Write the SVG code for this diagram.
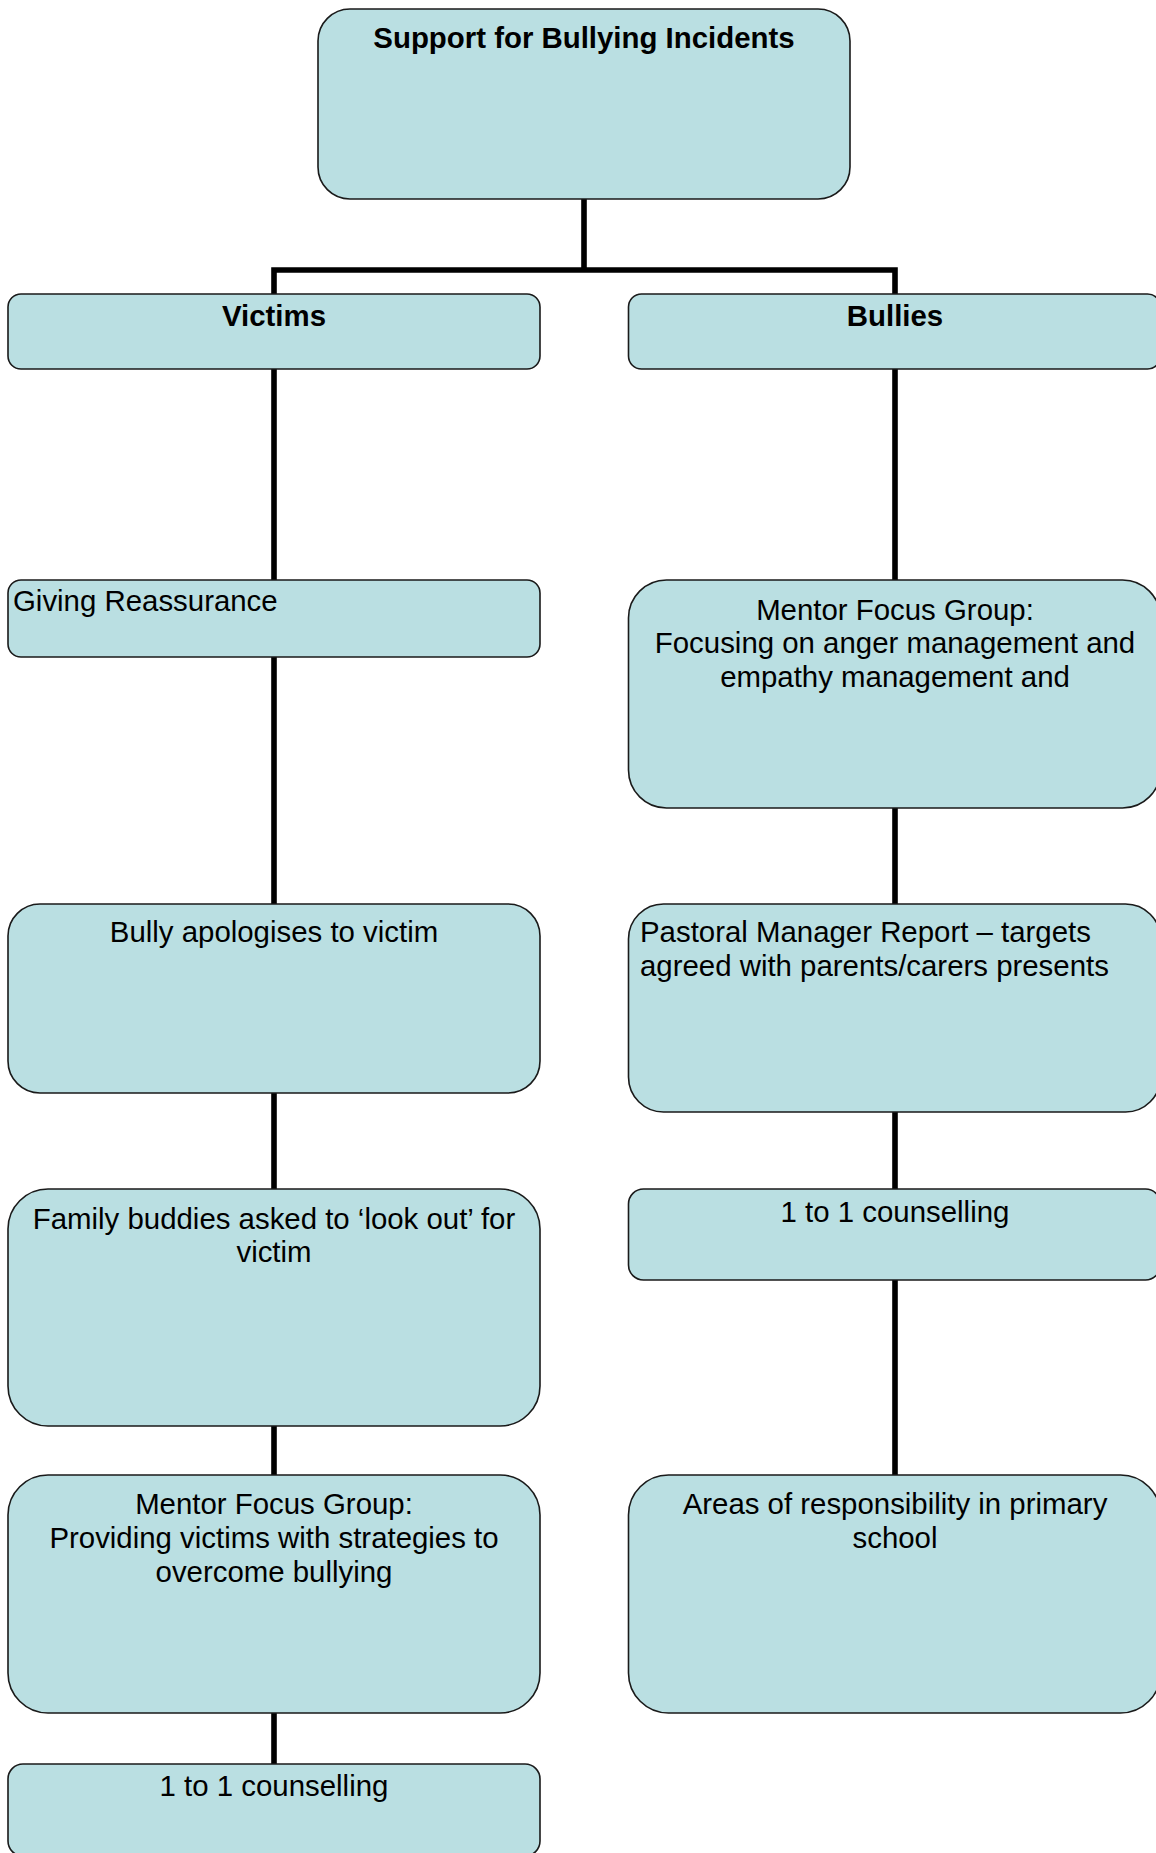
<svg xmlns="http://www.w3.org/2000/svg" width="1156" height="1853" viewBox="0 0 1156 1853">
<style>
.box{fill:#BADFE2;stroke:#1a1a1a;stroke-width:1.6}
.t{font-family:"Liberation Sans",Arial,sans-serif;font-size:29.4px;fill:#000}
.c{text-anchor:middle}
.b{font-weight:bold}
.conn{fill:none;stroke:#000;stroke-width:5.6;stroke-linejoin:miter;stroke-linecap:butt}
</style>
<rect width="1156" height="1853" fill="#fff"/>
<g id="connectors">
<path class="conn" d="M584,199 V270 M274,294 V270 H895 V294"/>
<path class="conn" d="M274,369 V580 M274,657 V904 M274,1093 V1189 M274,1426 V1475 M274,1713 V1764"/>
<path class="conn" d="M895,369 V580 M895,808 V904 M895,1112 V1189 M895,1280 V1475"/>
</g>
<g id="n-top">
<rect class="box" x="318" y="9" width="532" height="190" rx="32" ry="32"/>
<text class="t b c" x="584" y="48">Support for Bullying Incidents</text>
</g>
<g id="n-victims">
<rect class="box" x="8" y="294" width="532" height="75" rx="13" ry="13"/>
<text class="t b c" x="274" y="326">Victims</text>
</g>
<g id="n-bullies">
<rect class="box" x="628.5" y="294" width="532" height="75" rx="13" ry="13"/>
<text class="t b c" x="895" y="326">Bullies</text>
</g>
<g id="n-reassurance">
<rect class="box" x="8" y="580" width="532" height="77" rx="13" ry="13"/>
<text class="t" x="13" y="611">Giving Reassurance</text>
</g>
<g id="n-apologises">
<rect class="box" x="8" y="904" width="532" height="189" rx="32" ry="32"/>
<text class="t c" x="274" y="942">Bully apologises to victim</text>
</g>
<g id="n-family">
<rect class="box" x="8" y="1189" width="532" height="237" rx="40" ry="40"/>
<text class="t c" x="274" y="1229">Family buddies asked to ‘look out’ for</text>
<text class="t c" x="274" y="1262">victim</text>
</g>
<g id="n-mentor-victims">
<rect class="box" x="8" y="1475" width="532" height="238" rx="40" ry="40"/>
<text class="t c" x="274" y="1514">Mentor Focus Group:</text>
<text class="t c" x="274" y="1548">Providing victims with strategies to</text>
<text class="t c" x="274" y="1582">overcome bullying</text>
</g>
<g id="n-counselling-victims">
<rect class="box" x="8" y="1764" width="532" height="92" rx="15" ry="15"/>
<text class="t c" x="274" y="1796">1 to 1 counselling</text>
</g>
<g id="n-mentor-bullies">
<rect class="box" x="628.5" y="580" width="532" height="228" rx="38" ry="38"/>
<text class="t c" x="895" y="620">Mentor Focus Group:</text>
<text class="t c" x="895" y="653">Focusing on anger management and</text>
<text class="t c" x="895" y="687">empathy management and</text>
</g>
<g id="n-pastoral">
<rect class="box" x="628.5" y="904" width="532" height="208" rx="35" ry="35"/>
<text class="t" x="640" y="942">Pastoral Manager Report – targets</text>
<text class="t" x="640" y="976">agreed with parents/carers presents</text>
</g>
<g id="n-counselling-bullies">
<rect class="box" x="628.5" y="1189" width="532" height="91" rx="15" ry="15"/>
<text class="t c" x="895" y="1222">1 to 1 counselling</text>
</g>
<g id="n-areas">
<rect class="box" x="628.5" y="1475" width="532" height="238" rx="40" ry="40"/>
<text class="t c" x="895" y="1514">Areas of responsibility in primary</text>
<text class="t c" x="895" y="1548">school</text>
</g>
</svg>
